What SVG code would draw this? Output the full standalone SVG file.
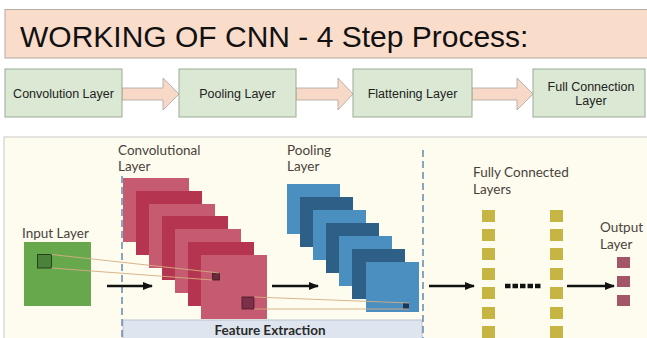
<svg xmlns="http://www.w3.org/2000/svg" width="647" height="338" viewBox="0 0 647 338">
  <defs>
    <style>
      .title { font-family: "Liberation Sans", Arial, sans-serif; font-size: 30px; fill: #111; }
      .box { fill: #dbe8d3; stroke: #9aab95; stroke-width: 1; }
      .btxt { font-family: "Liberation Sans", Arial, sans-serif; font-size: 12.5px; fill: #222; text-anchor: middle; }
      .barrow { fill: #f8d8c6; stroke: #a9a39e; stroke-width: 0.8; }
      .lbl { font-family: Lato, "Open Sans", sans-serif; font-size: 13.5px; fill: #4a423c; }
      .rl { fill: #c65a70; }
      .rd { fill: #b5344f; }
      .bl { fill: #4b8fc0; }
      .bd { fill: #2e5f86; }
      .fc { fill: #c6b443; }
      .out { fill: #a25668; }
      .dash { stroke: #6688ad; stroke-width: 1.5; stroke-dasharray: 7 4; fill: none; }
      .arr { stroke: #111; stroke-width: 2.5; fill: none; marker-end: url(#ah); }
      .link { stroke: #d4ad82; stroke-width: 1; fill: none; opacity: 0.9; }
    </style>
    <marker id="ah" viewBox="0 0 10 10" refX="9" refY="5" markerWidth="4" markerHeight="4" orient="auto" markerUnits="strokeWidth">
      <path d="M0,1 L10,5 L0,9 Z" fill="#111"/>
    </marker>
  </defs>

  <rect x="0" y="0" width="647" height="338" fill="#ffffff"/>

  <!-- Title -->
  <g id="title">
    <rect x="5" y="9.5" width="650" height="48.5" fill="#fadccb" stroke="#b3aaa3" stroke-width="1"/>
    <text class="title" x="20" y="47">WORKING OF CNN - 4 Step Process:</text>
  </g>

  <!-- Step row connectors (block arrows) -->
  <g id="step-connectors">
    <path class="barrow" d="M122,88 L163,88 L163,78 L179,94 L163,110 L163,100 L122,100 Z"/>
    <path class="barrow" d="M296,88 L338,88 L338,78 L353,94 L338,110 L338,100 L296,100 Z"/>
    <path class="barrow" d="M472,88 L517,88 L517,78 L533,94 L517,110 L517,100 L472,100 Z"/>
  </g>

  <g id="step-convolution">
    <rect class="box" x="5" y="69" width="117" height="48"/>
    <text class="btxt" x="63.5" y="98">Convolution Layer</text>
  </g>
  <g id="step-pooling">
    <rect class="box" x="179" y="69" width="117" height="48"/>
    <text class="btxt" x="237.5" y="98">Pooling Layer</text>
  </g>
  <g id="step-flattening">
    <rect class="box" x="353" y="69" width="119" height="48"/>
    <text class="btxt" x="412.5" y="98">Flattening Layer</text>
  </g>
  <g id="step-full-connection">
    <rect class="box" x="533" y="69" width="112" height="48"/>
    <text class="btxt" x="591" y="90.5">Full Connection</text>
    <text class="btxt" x="591" y="105">Layer</text>
  </g>

  <!-- Lower panel -->
  <g id="panel">
    <rect x="4" y="137" width="660" height="210" fill="#fefcee" stroke="#c9c9c6" stroke-width="1"/>
  </g>

  <g id="feature-extraction">
    <rect x="123" y="320" width="299" height="25" fill="#dfe5ef" stroke="#b9c4d5" stroke-width="1"/>
    <text x="270" y="335" font-family="Lato, 'Open Sans', sans-serif" font-size="13.5" font-weight="bold" fill="#2a2a2a" text-anchor="middle">Feature Extraction</text>
  </g>

  <g id="dividers">
    <line class="dash" x1="122" y1="176" x2="122" y2="338"/>
    <line class="dash" x1="423" y1="150" x2="423" y2="338"/>
  </g>

  <g id="input-layer">
    <text class="lbl" x="22" y="238">Input Layer</text>
    <rect x="24" y="242" width="67" height="64" fill="#67a84c"/>
    <rect x="37.5" y="254.5" width="14" height="13.5" fill="#4a823a" stroke="#24421c" stroke-width="1"/>
  </g>

  <g id="convolutional-layer">
    <text class="lbl" x="118" y="154.5">Convolutional</text>
    <text class="lbl" x="118" y="171">Layer</text>
    <rect class="rl" x="123" y="178" width="66" height="64"/>
    <rect class="rd" x="136" y="191" width="66" height="64"/>
    <rect class="rl" x="149" y="204" width="66" height="64"/>
    <rect class="rd" x="162" y="216" width="66" height="64"/>
    <rect class="rl" x="175" y="229" width="66" height="64"/>
    <rect class="rd" x="188" y="242" width="66" height="64"/>
    <rect class="rl" x="201" y="255" width="66" height="64"/>
    <rect x="212.5" y="273" width="7" height="7" fill="#6a2a3b" stroke="#3f1522" stroke-width="0.8"/>
    <rect x="242" y="297" width="12" height="12" fill="#7b3047" stroke="#4a1828" stroke-width="0.8"/>
  </g>

  <g id="pooling-layer">
    <text class="lbl" x="287" y="154.5">Pooling</text>
    <text class="lbl" x="287" y="171">Layer</text>
    <rect class="bl" x="287" y="184" width="53" height="50"/>
    <rect class="bd" x="300" y="197" width="53" height="50"/>
    <rect class="bl" x="313" y="210" width="53" height="50"/>
    <rect class="bd" x="326" y="223" width="53" height="50"/>
    <rect class="bl" x="339" y="236" width="53" height="50"/>
    <rect class="bd" x="352" y="249" width="53" height="50"/>
    <rect class="bl" x="366" y="262" width="53" height="50"/>
    <rect x="403" y="303" width="6" height="6" fill="#1e3658"/>
  </g>

  <g id="fully-connected-layers">
    <text class="lbl" x="473" y="177">Fully Connected</text>
    <text class="lbl" x="473" y="193.5">Layers</text>
    <rect class="fc" x="482" y="210" width="13" height="12"/>
    <rect class="fc" x="482" y="229" width="13" height="12"/>
    <rect class="fc" x="482" y="248" width="13" height="12"/>
    <rect class="fc" x="482" y="268" width="13" height="12"/>
    <rect class="fc" x="482" y="287" width="13" height="12"/>
    <rect class="fc" x="482" y="307" width="13" height="12"/>
    <rect class="fc" x="482" y="326" width="13" height="12"/>
    <rect class="fc" x="550" y="210" width="13" height="12"/>
    <rect class="fc" x="550" y="229" width="13" height="12"/>
    <rect class="fc" x="550" y="248" width="13" height="12"/>
    <rect class="fc" x="550" y="268" width="13" height="12"/>
    <rect class="fc" x="550" y="287" width="13" height="12"/>
    <rect class="fc" x="550" y="307" width="13" height="12"/>
    <rect class="fc" x="550" y="326" width="13" height="12"/>
    <line x1="505" y1="286" x2="541" y2="286" stroke="#111" stroke-width="4.5" stroke-dasharray="5.5 2"/>
  </g>

  <g id="output-layer">
    <text class="lbl" x="600" y="232">Output</text>
    <text class="lbl" x="600" y="248.5">Layer</text>
    <rect class="out" x="617" y="257" width="13" height="11"/>
    <rect class="out" x="617" y="276" width="13" height="11"/>
    <rect class="out" x="617" y="295" width="13" height="11"/>
  </g>

  <g id="connectors">
    <line class="link" x1="51.5" y1="254.5" x2="219.5" y2="273"/>
    <line class="link" x1="51.5" y1="268" x2="212.5" y2="280"/>
    <line class="link" x1="254" y1="297" x2="409" y2="303"/>
    <line class="link" x1="254" y1="309" x2="409" y2="309"/>
    <line class="arr" x1="107" y1="286" x2="152" y2="286"/>
    <line class="arr" x1="272" y1="286" x2="318" y2="286"/>
    <line class="arr" x1="429" y1="286" x2="474" y2="286"/>
    <line class="arr" x1="567" y1="286" x2="614" y2="286"/>
  </g>
</svg>
